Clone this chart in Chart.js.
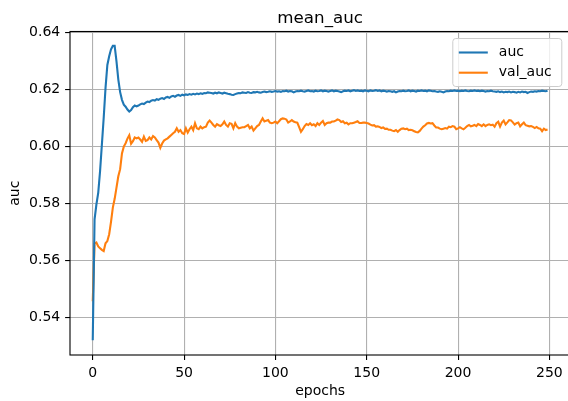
<!DOCTYPE html>
<html>
<head>
<meta charset="utf-8">
<script src="https://cdn.jsdelivr.net/npm/chart.js@4.4.1/dist/chart.umd.min.js"></script>
<style>
  html, body { margin: 0; padding: 0; background: #fff; overflow: hidden; }
  #wrap { width: 572px; height: 401px; }
</style>
</head>
<body>
<div id="wrap"><canvas id="chart" width="572" height="401"></canvas></div>
<script>
// mean_auc training curves
const chartTitle = 'mean_auc';
const xTitle = 'epochs';
const yTitle = 'auc';
const xTicks = [0, 50, 100, 150, 200, 250];
const yTicks = [0.54, 0.56, 0.58, 0.60, 0.62, 0.64];

const auc = [
    0.5320, 0.5744, 0.5796, 0.5837, 0.5912, 0.6006, 0.6100, 0.6205, 0.6285, 0.6316,
    0.6340, 0.6352, 0.6352, 0.6298, 0.6234, 0.6190, 0.6163, 0.6146, 0.6139, 0.6129,
    0.6122, 0.6127, 0.6137, 0.6143, 0.6140, 0.6143, 0.6147, 0.6150, 0.6148, 0.6153,
    0.6157, 0.6155, 0.6160, 0.6162, 0.6160, 0.6165, 0.6163, 0.6167, 0.6169, 0.6166,
    0.6171, 0.6173, 0.6170, 0.6175, 0.6177, 0.6174, 0.6178, 0.6180, 0.6177, 0.6181,
    0.6179, 0.6182, 0.6180, 0.6183, 0.6181, 0.6184, 0.6182, 0.6185, 0.6183, 0.6186,
    0.6184, 0.6187, 0.6186, 0.6189, 0.6188, 0.6187, 0.6185, 0.6188, 0.6186, 0.6189,
    0.6187, 0.6185, 0.6188, 0.6186, 0.6184, 0.6183, 0.6181, 0.6180, 0.6183, 0.6185,
    0.6187, 0.6186, 0.6189, 0.6188, 0.6187, 0.6190, 0.6188, 0.6187, 0.6190, 0.6189,
    0.6191, 0.6189, 0.6188, 0.6190, 0.6192, 0.6190, 0.6191, 0.6193, 0.6191, 0.6192,
    0.6194, 0.6192, 0.6193, 0.6191, 0.6194, 0.6193, 0.6195, 0.6192, 0.6194, 0.6193,
    0.6189, 0.6192, 0.6194, 0.6193, 0.6195, 0.6193, 0.6192, 0.6194, 0.6196, 0.6193,
    0.6194, 0.6192, 0.6195, 0.6193, 0.6194, 0.6196, 0.6193, 0.6195, 0.6194, 0.6192,
    0.6194, 0.6196, 0.6193, 0.6195, 0.6194, 0.6192, 0.6190, 0.6193, 0.6195, 0.6194,
    0.6196, 0.6193, 0.6195, 0.6197, 0.6194, 0.6196, 0.6194, 0.6195, 0.6193, 0.6196,
    0.6195, 0.6193, 0.6196, 0.6194, 0.6195, 0.6197, 0.6194, 0.6196, 0.6193, 0.6195,
    0.6194, 0.6192, 0.6194, 0.6193, 0.6191, 0.6193, 0.6189, 0.6192, 0.6194, 0.6193,
    0.6195, 0.6193, 0.6194, 0.6196, 0.6193, 0.6195, 0.6194, 0.6192, 0.6195, 0.6194,
    0.6196, 0.6194, 0.6195, 0.6193, 0.6196, 0.6195, 0.6193, 0.6194, 0.6192, 0.6191,
    0.6193, 0.6191, 0.6189, 0.6192, 0.6194, 0.6193, 0.6195, 0.6194, 0.6196, 0.6194,
    0.6195, 0.6193, 0.6195, 0.6194, 0.6196, 0.6194, 0.6193, 0.6195, 0.6194, 0.6196,
    0.6194, 0.6195, 0.6193, 0.6195, 0.6194, 0.6192, 0.6194, 0.6193, 0.6195, 0.6193,
    0.6192, 0.6191, 0.6193, 0.6190, 0.6192, 0.6189, 0.6191, 0.6190, 0.6192, 0.6189,
    0.6191, 0.6190, 0.6188, 0.6191, 0.6189, 0.6192, 0.6190, 0.6191, 0.6187, 0.6190,
    0.6192, 0.6191, 0.6193, 0.6192, 0.6194, 0.6193, 0.6195, 0.6194, 0.6193, 0.6195,
];

const valAuc = [
    0.5457, 0.5659, 0.5663, 0.5649, 0.5643, 0.5637, 0.5633, 0.5660, 0.5668, 0.5692,
    0.5735, 0.5785, 0.5816, 0.5855, 0.5895, 0.5920, 0.5975, 0.5999, 0.6011, 0.6027,
    0.6039, 0.6009, 0.6018, 0.6031, 0.6028, 0.6031, 0.6024, 0.6016, 0.6034, 0.6019,
    0.6022, 0.6031, 0.6024, 0.6036, 0.6031, 0.6022, 0.6013, 0.5995, 0.6010, 0.6020,
    0.6024, 0.6028, 0.6034, 0.6040, 0.6046, 0.6051, 0.6063, 0.6051, 0.6057, 0.6046,
    0.6043, 0.6063, 0.6048, 0.6060, 0.6069, 0.6057, 0.6081, 0.6063, 0.6060, 0.6069,
    0.6063, 0.6067, 0.6069, 0.6083, 0.6090, 0.6083, 0.6075, 0.6069, 0.6078, 0.6074,
    0.6071, 0.6077, 0.6087, 0.6075, 0.6069, 0.6081, 0.6079, 0.6063, 0.6081, 0.6069,
    0.6063, 0.6065, 0.6067, 0.6067, 0.6071, 0.6075, 0.6063, 0.6069, 0.6055, 0.6063,
    0.6071, 0.6075, 0.6087, 0.6098, 0.6087, 0.6090, 0.6092, 0.6083, 0.6081, 0.6083,
    0.6087, 0.6081, 0.6088, 0.6095, 0.6098, 0.6097, 0.6094, 0.6083, 0.6087, 0.6092,
    0.6087, 0.6084, 0.6083, 0.6067, 0.6051, 0.6060, 0.6071, 0.6078, 0.6075, 0.6081,
    0.6074, 0.6077, 0.6071, 0.6081, 0.6075, 0.6083, 0.6089, 0.6075, 0.6081, 0.6083,
    0.6083, 0.6087, 0.6087, 0.6090, 0.6094, 0.6092, 0.6085, 0.6088, 0.6081, 0.6083,
    0.6077, 0.6081, 0.6081, 0.6083, 0.6085, 0.6088, 0.6082, 0.6082, 0.6083, 0.6083,
    0.6082, 0.6080, 0.6076, 0.6073, 0.6074, 0.6069, 0.6070, 0.6068, 0.6064, 0.6066,
    0.6061, 0.6062, 0.6058, 0.6058, 0.6055, 0.6053, 0.6057, 0.6051, 0.6057, 0.6062,
    0.6063, 0.6060, 0.6062, 0.6057, 0.6058, 0.6056, 0.6053, 0.6050, 0.6049, 0.6054,
    0.6062, 0.6069, 0.6074, 0.6080, 0.6082, 0.6080, 0.6081, 0.6073, 0.6066, 0.6066,
    0.6062, 0.6060, 0.6062, 0.6064, 0.6062, 0.6069, 0.6067, 0.6071, 0.6069, 0.6060,
    0.6063, 0.6067, 0.6063, 0.6060, 0.6065, 0.6071, 0.6075, 0.6070, 0.6072, 0.6075,
    0.6071, 0.6078, 0.6075, 0.6071, 0.6077, 0.6071, 0.6075, 0.6077, 0.6074, 0.6076,
    0.6069, 0.6081, 0.6086, 0.6069, 0.6083, 0.6090, 0.6077, 0.6084, 0.6092, 0.6091,
    0.6084, 0.6076, 0.6081, 0.6083, 0.6070, 0.6077, 0.6083, 0.6074, 0.6072, 0.6070,
    0.6071, 0.6068, 0.6064, 0.6068, 0.6063, 0.6062, 0.6053, 0.6062, 0.6057, 0.6059,
];

const epochs = auc.map((_, i) => i);

const FONT = 'DejaVu Sans';

// title centred over the plot area, like matplotlib's ax.set_title
const titlePlugin = {
    id: 'axTitle',
    afterDraw(chart) {
        const { ctx, chartArea } = chart;
        ctx.save();
        ctx.font = `16.7px "${FONT}"`;
        ctx.fillStyle = '#000';
        ctx.textAlign = 'center';
        ctx.textBaseline = 'alphabetic';
        ctx.fillText(chartTitle, (chartArea.left + chartArea.right) / 2, chartArea.top - 8.5);
        ctx.restore();
    }
};

// axes frame on top of the lines
const spinesPlugin = {
    id: 'spines',
    afterDatasetsDraw(chart) {
        const { ctx, chartArea: a } = chart;
        ctx.save();
        ctx.strokeStyle = '#000';
        ctx.lineWidth = 1.1;
        ctx.strokeRect(a.left, a.top, a.right - a.left, a.bottom - a.top);
        ctx.restore();
    }
};

// legend box inside the axes, upper right
const legendPlugin = {
    id: 'innerLegend',
    afterDraw(chart) {
        const { ctx, chartArea: a } = chart;
        const w = 109, h = 48;
        const x = a.right - 8.5 - w, y = a.top + 7;
        ctx.save();
        ctx.beginPath();
        ctx.roundRect(x, y, w, h, 3);
        ctx.fillStyle = 'rgba(255,255,255,0.8)';
        ctx.fill();
        ctx.strokeStyle = '#cccccc';
        ctx.lineWidth = 1;
        ctx.stroke();
        ctx.font = `14px "${FONT}"`;
        ctx.textBaseline = 'middle';
        chart.data.datasets.forEach((ds, i) => {
            const cy = y + 14 + i * 20.2;
            ctx.strokeStyle = ds.borderColor;
            ctx.lineWidth = 2.1;
            ctx.beginPath();
            ctx.moveTo(x + 6, cy);
            ctx.lineTo(x + 35, cy);
            ctx.stroke();
            ctx.fillStyle = '#000';
            ctx.fillText(ds.label, x + 46, cy);
        });
        ctx.restore();
    }
};

new Chart(document.getElementById('chart').getContext('2d'), {
    type: 'line',
    data: {
        labels: epochs,
        datasets: [
            { label: 'auc', data: auc, borderColor: '#1f77b4', borderWidth: 2.1, pointRadius: 0, tension: 0, fill: false },
            { label: 'val_auc', data: valAuc, borderColor: '#ff7f0e', borderWidth: 2.1, pointRadius: 0, tension: 0, fill: false },
        ]
    },
    options: {
        responsive: false,
        animation: false,
        devicePixelRatio: 1,
        layout: { padding: { top: 31.5, right: 1.7, left: 0, bottom: 0 } },
        plugins: {
            legend: { display: false },
            tooltip: { enabled: false },
            title: { display: false },
        },
        scales: {
            x: {
                type: 'linear',
                min: -12.45,
                max: 261.45,
                afterBuildTicks: s => { s.ticks = xTicks.map(v => ({ value: v })); },
                afterFit: s => { s.height = 46; },
                border: { display: false },
                grid: { color: '#b0b0b0', lineWidth: 1.1, tickColor: '#000', tickLength: 4.9, tickWidth: 1.1 },
                ticks: { color: '#000', font: { family: FONT, size: 14 }, padding: 4.9, maxRotation: 0, autoSkip: false },
                title: { display: true, text: xTitle, color: '#000', font: { family: FONT, size: 14 }, padding: { top: 0, bottom: 1 } },
            },
            y: {
                min: 0.52685,
                max: 0.64025,
                afterBuildTicks: s => { s.ticks = yTicks.map(v => ({ value: v })); },
                afterFit: s => { s.width = 70; },
                border: { display: false },
                grid: { color: '#b0b0b0', lineWidth: 1.1, tickColor: '#000', tickLength: 4.9, tickWidth: 1.1 },
                ticks: { color: '#000', font: { family: FONT, size: 14 }, padding: 4.9, autoSkip: false, callback: v => v.toFixed(2) },
                title: { display: true, text: yTitle, color: '#000', font: { family: FONT, size: 14 }, padding: { top: 6.6, bottom: 0 } },
            },
        },
    },
    plugins: [spinesPlugin, titlePlugin, legendPlugin],
});
</script>
</body>
</html>
